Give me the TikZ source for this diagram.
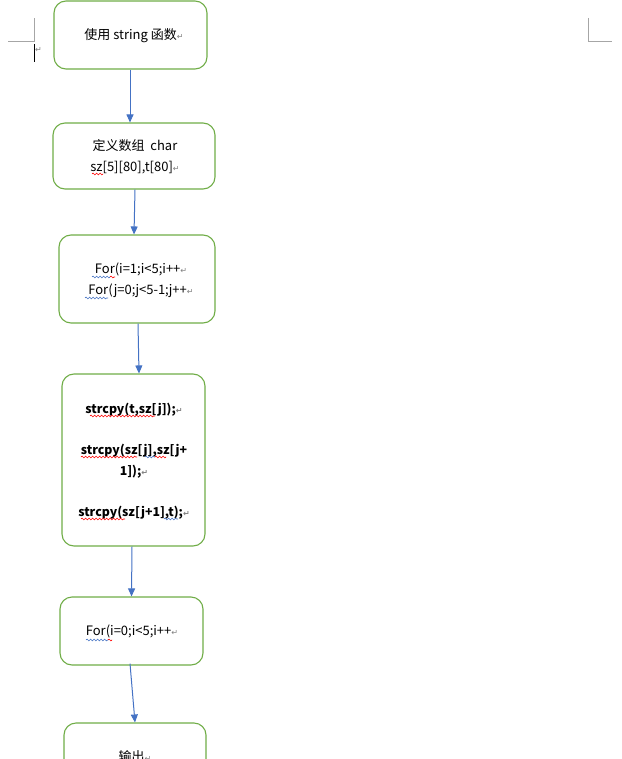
\documentclass[tikz,border=0pt]{standalone}
\usepackage{fontspec}
\setmainfont{Noto Sans CJK SC}
\newfontfamily\symf{DejaVu Sans}
\usetikzlibrary{arrows.meta,decorations.pathmorphing}
\definecolor{boxgreen}{HTML}{70AD47}
\definecolor{arrowblue}{HTML}{4472C4}
\definecolor{markgray}{HTML}{A6A6A6}
\newcommand{\ret}{{\symf\color{gray}\fontsize{8}{8}\selectfont ↵}}
\begin{document}
\begin{tikzpicture}[x=1pt,y=-1pt,
  box/.style={draw=boxgreen, line width=1.1pt, rounded corners=12pt, fill=white, inner sep=0pt},
  flow/.style={draw=arrowblue, line width=1pt, -{Triangle[length=8pt,width=7pt]}},
  txt/.style={font=\fontsize{13}{21}\selectfont, align=center, inner sep=0pt},
  btxt/.style={font=\fontsize{12.3}{20.5}\selectfont\bfseries, align=center, inner sep=0pt},
  wavr/.style={draw=red, line width=0.6pt, decorate, decoration={snake,amplitude=0.9pt,segment length=3.5pt}},
  wavb/.style={draw=arrowblue, line width=0.6pt, decorate, decoration={snake,amplitude=0.9pt,segment length=3.5pt}},
  cmark/.style={draw=markgray, line width=0.8pt}]
\useasboundingbox (0,0) rectangle (621,759);

% page corner marks and cursor
\draw[cmark] (8,41) -- (34,41) -- (34,18);
\draw[cmark] (588,18) -- (588,41) -- (612,41);
\draw[black, line width=0.6pt] (34.5,44) -- (34.5,62);
\node[inner sep=0pt] (cur) at (38.5,50) {\ret};

% boxes
\node[box, minimum width=153pt, minimum height=68pt] (b1) at (130.5,35) {};
\node[box, minimum width=162pt, minimum height=66pt] (b2) at (134,156) {};
\node[box, minimum width=156pt, minimum height=88pt] (b3) at (137,279) {};
\node[box, minimum width=143pt, minimum height=172pt] (b4) at (133.5,460) {};
\node[box, minimum width=143pt, minimum height=68pt] (b5) at (131.5,631) {};
\node[box, minimum width=142pt, minimum height=68pt] (b6) at (135,757) {};

% texts
\node[txt] (t1) at (134,36) {使用 string 函数\ret};
\node[txt] (t2) at (135,157) {定义数组~ char\\sz[5][80],t[80]\ret};
\node[txt] (t3) at (141,280) {For(i=1;i<5;i++\ret\\For(j=0;j<5-1;j++\ret};
\node[btxt] (t4) at (134,461) {strcpy(t,sz[j]);\ret\\\mbox{}\\strcpy(sz[j],sz[j+\\1]);\ret\\\mbox{}\\strcpy(sz[j+1],t);\ret};
\node[txt] (t5) at (132,631) {For(i=0;i<5;i++\ret};
\node[txt] (t6) at (135,757) {输出\ret};

% spell-check underlines
\draw[wavr] (92,174) -- (103,174);
\draw[wavb] (92,277) -- (110,277);
\draw[wavr] (110,277) -- (115,277);
\draw[wavb] (85,298) -- (108,298);
\draw[wavr] (90,416) -- (155,416);
\draw[wavr] (81,457) -- (137,457);
\draw[wavb] (145,457) -- (155,457);
\draw[wavr] (155,457) -- (166,457);
\draw[wavr] (81,519) -- (125,519);
\draw[wavb] (164,519) -- (178,519);
\draw[wavb] (86,640) -- (108,640);
\draw[wavr] (108,640) -- (112,640);

% connectors
\draw[flow] ([xshift=-0.5pt]b1.south) -- ([xshift=-4pt]b2.north);
\draw[flow] ([xshift=1pt]b2.south) -- ([xshift=-3pt]b3.north);
\draw[flow] ([xshift=1pt]b3.south) -- ([xshift=5.5pt]b4.north);
\draw[flow] ([xshift=-1.5pt]b4.south) -- (b5.north);
\draw[flow] ([xshift=-1.5pt,yshift=2pt]b5.south) -- (b6.north);
\end{tikzpicture}
\end{document}
